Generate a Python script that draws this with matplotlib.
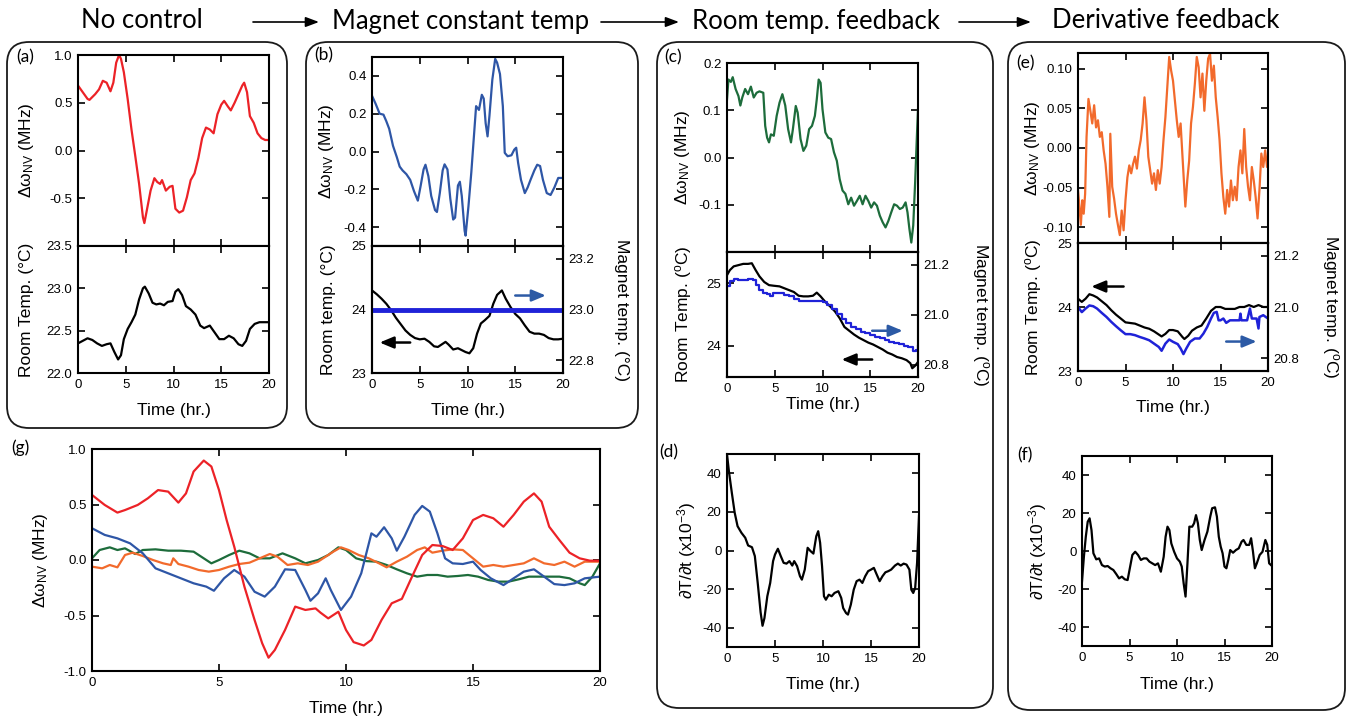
import matplotlib
matplotlib.use('Agg')
import matplotlib.pyplot as plt
from matplotlib.patches import FancyBboxPatch, FancyArrowPatch
from matplotlib.transforms import IdentityTransform
from matplotlib.ticker import FormatStrFormatter

plt.rcParams['font.family'] = ['Liberation Sans', 'DejaVu Sans']
plt.rcParams['axes.unicode_minus'] = False
plt.rcParams['mathtext.fontset'] = 'custom'
plt.rcParams['mathtext.rm'] = 'Liberation Sans'
plt.rcParams['mathtext.it'] = 'Liberation Sans:italic'

# ---------------- data ----------------
# (a) no control
a_t = [0, 0.5, 1.0, 1.2, 1.8, 2.2, 2.6, 3.0, 3.4, 3.7, 4.0, 4.3, 4.5, 4.8, 5.2, 5.6, 6.0, 6.4, 6.8, 6.95,
       7.2, 7.6, 8.0, 8.3, 8.6, 8.8, 9.2, 9.6, 9.9, 10.2, 10.6, 11.0, 11.4, 11.8, 12.2, 12.6, 13.0, 13.4, 13.8, 14.2,
       14.6, 15.0, 15.3, 15.7, 16.0, 16.4, 16.8, 17.2, 17.4, 17.7, 18.0, 18.4, 18.8, 19.2, 19.6, 20.0]
a_dw = [0.68, 0.61, 0.54, 0.53, 0.59, 0.64, 0.73, 0.71, 0.62, 0.71, 0.92, 1.0, 0.96, 0.82, 0.54, 0.22, -0.06, -0.35, -0.70, -0.76,
        -0.63, -0.42, -0.29, -0.33, -0.35, -0.31, -0.42, -0.38, -0.37, -0.61, -0.65, -0.63, -0.49, -0.31, -0.24, -0.08, 0.13, 0.24, 0.22, 0.18,
        0.38, 0.48, 0.52, 0.46, 0.42, 0.50, 0.59, 0.68, 0.71, 0.61, 0.36, 0.29, 0.18, 0.13, 0.11, 0.11]
a_room_t = [0, 0.5, 1.0, 1.5, 2.0, 2.5, 3.0, 3.4, 3.8, 4.2, 4.5, 4.8, 5.2, 5.6, 6.0, 6.4, 6.8, 7.0, 7.4, 7.8,
            8.2, 8.6, 9.0, 9.4, 9.9, 10.2, 10.5, 10.9, 11.3, 11.8, 12.3, 12.8, 13.2, 13.8, 14.3, 14.8, 15.3, 15.8, 16.3, 16.8,
            17.2, 17.6, 18.0, 18.5, 19.0, 20.0]
a_room = [22.35, 22.38, 22.41, 22.39, 22.35, 22.32, 22.34, 22.35, 22.25, 22.16, 22.21, 22.40, 22.52, 22.60, 22.69, 22.87, 23.00, 23.02, 22.94, 22.83,
          22.81, 22.82, 22.80, 22.84, 22.85, 22.96, 22.99, 22.92, 22.79, 22.75, 22.69, 22.56, 22.53, 22.56, 22.48, 22.40, 22.40, 22.44, 22.41, 22.34,
          22.32, 22.38, 22.52, 22.58, 22.60, 22.60]

# (b) magnet constant temp
b_t = [0, 0.4, 0.8, 1.2, 1.5, 1.8, 2.2, 2.6, 2.9, 3.2, 3.6, 4.0, 4.4, 4.8, 5.1, 5.4, 5.6, 5.9, 6.2, 6.6,
       6.8, 7.1, 7.4, 7.6, 7.9, 8.2, 8.5, 8.7, 9.0, 9.2, 9.4, 9.7, 9.8, 10.1, 10.4, 10.7, 10.9, 11.2, 11.5, 11.7,
       11.9, 12.1, 12.3, 12.6, 12.9, 13.1, 13.4, 13.7, 13.9, 14.2, 14.6, 14.9, 15.1, 15.3, 15.6, 16.0, 16.3, 16.6, 17.0, 17.3,
       17.6, 17.9, 18.3, 18.7, 19.1, 19.5, 20.0]
b_dw = [0.295, 0.25, 0.20, 0.195, 0.16, 0.12, 0.03, -0.03, -0.08, -0.10, -0.12, -0.15, -0.21, -0.26, -0.18, -0.095, -0.07, -0.13, -0.235, -0.31,
        -0.32, -0.22, -0.10, -0.068, -0.095, -0.25, -0.36, -0.35, -0.18, -0.16, -0.235, -0.42, -0.445, -0.29, -0.11, 0.10, 0.24, 0.22, 0.30, 0.28,
        0.15, 0.08, 0.19, 0.38, 0.49, 0.47, 0.41, 0.24, -0.007, -0.025, -0.02, 0.01, 0.02, -0.06, -0.15, -0.22, -0.19, -0.15, -0.10, -0.07,
        -0.077, -0.15, -0.22, -0.23, -0.19, -0.14, -0.14]
b_room_t = [0, 0.5, 1.0, 1.5, 2.0, 2.5, 3.0, 3.5, 4.0, 4.5, 5.0, 5.5, 6.0, 6.5, 6.9, 7.3, 7.7, 8.0, 8.5, 9.0,
            9.4, 9.8, 10.2, 10.6, 11.0, 11.4, 11.8, 12.3, 12.7, 13.1, 13.6, 14.0, 14.5, 15.0, 15.5, 16.0, 16.5, 17.0, 17.5, 18.0,
            18.5, 19.0, 19.5, 20.0]
b_room = [24.30, 24.24, 24.17, 24.09, 23.99, 23.87, 23.77, 23.67, 23.60, 23.55, 23.53, 23.54, 23.49, 23.42, 23.41, 23.45, 23.49, 23.45, 23.37, 23.39,
          23.36, 23.33, 23.31, 23.39, 23.62, 23.78, 23.83, 23.90, 24.09, 24.23, 24.30, 24.17, 24.04, 23.93, 23.86, 23.75, 23.65, 23.62, 23.62, 23.60,
          23.55, 23.53, 23.53, 23.54]
b_mag_t = [0, 5, 10, 15, 20]
b_mag = [23.0, 23.0, 23.0, 23.0, 23.0]

# (c) room temp. feedback
c_t = [0, 0.15, 0.4, 0.6, 0.9, 1.2, 1.4, 1.6, 1.9, 2.2, 2.5, 2.8, 3.1, 3.4, 3.8, 4.0, 4.2, 4.4, 4.6, 4.9,
       5.2, 5.5, 5.8, 6.1, 6.4, 6.7, 6.9, 7.2, 7.4, 7.7, 8.0, 8.3, 8.6, 8.9, 9.2, 9.4, 9.6, 9.8, 10.0, 10.3,
       10.6, 10.9, 11.2, 11.5, 11.8, 12.1, 12.4, 12.7, 13.0, 13.3, 13.6, 13.9, 14.2, 14.5, 14.8, 15.1, 15.4, 15.7, 16.0, 16.3,
       16.6, 16.9, 17.2, 17.5, 17.8, 18.1, 18.4, 18.7, 18.9, 19.1, 19.3, 19.5, 19.7, 19.9, 20.0]
c_dw = [0.123, 0.165, 0.16, 0.17, 0.145, 0.13, 0.11, 0.127, 0.145, 0.134, 0.15, 0.127, 0.137, 0.14, 0.137, 0.067, 0.042, 0.032, 0.049, 0.046,
        0.088, 0.116, 0.134, 0.11, 0.06, 0.032, 0.06, 0.109, 0.095, 0.039, 0.014, 0.025, 0.06, 0.067, 0.088, 0.123, 0.165, 0.158, 0.102, 0.053,
        0.042, 0.039, 0.011, -0.007, -0.046, -0.07, -0.077, -0.099, -0.085, -0.102, -0.092, -0.081, -0.099, -0.081, -0.092, -0.106, -0.095, -0.102, -0.123, -0.137,
        -0.148, -0.134, -0.116, -0.099, -0.102, -0.109, -0.106, -0.095, -0.116, -0.151, -0.18, -0.144, -0.053, 0.053, 0.102]
c_room_t = [0, 0.3, 0.7, 1.2, 1.7, 2.2, 2.6, 3.0, 3.4, 3.9, 4.4, 4.9, 5.5, 6.0, 6.5, 7.0, 7.5, 8.0, 8.5, 9.0,
            9.4, 9.8, 10.3, 10.8, 11.3, 11.8, 12.3, 12.8, 13.3, 13.8, 14.3, 14.8, 15.3, 15.8, 16.3, 16.8, 17.3, 17.8, 18.3, 18.8,
            19.2, 19.4, 19.7, 20.0]
c_room = [25.13, 25.21, 25.27, 25.29, 25.31, 25.31, 25.32, 25.21, 25.11, 25.02, 24.97, 24.96, 24.95, 24.92, 24.89, 24.86, 24.80, 24.79, 24.79, 24.80,
          24.85, 24.79, 24.70, 24.63, 24.55, 24.44, 24.30, 24.24, 24.18, 24.13, 24.09, 24.05, 24.02, 23.98, 23.94, 23.89, 23.86, 23.82, 23.80, 23.77,
          23.72, 23.64, 23.68, 23.74]
c_mag_t = [0, 0.3, 0.7, 1.2, 1.7, 2.2, 2.7, 3.0, 3.4, 3.8, 4.2, 4.5, 4.8, 5.5, 6.0, 6.5, 7.0, 7.5, 8.0, 9.0,
           9.6, 10.0, 10.5, 11.0, 11.5, 12.0, 12.5, 13.0, 13.5, 14.0, 14.5, 15.0, 15.5, 16.0, 16.5, 17.0, 17.5, 18.0, 18.5, 19.0,
           19.5, 19.8, 20.0]
c_mag = [21.115, 21.135, 21.141, 21.139, 21.139, 21.141, 21.139, 21.12, 21.10, 21.086, 21.082, 21.073, 21.086, 21.086, 21.078, 21.073, 21.063, 21.056, 21.056, 21.056,
         21.056, 21.05, 21.037, 21.021, 21.004, 20.984, 20.965, 20.952, 20.942, 20.932, 20.925, 20.919, 20.912, 20.906, 20.899, 20.89, 20.886, 20.882, 20.873, 20.869,
         20.854, 20.86, 20.873]

# (d) dT/dt for room temp. feedback
d_t = [0, 0.2, 0.5, 0.8, 1.1, 1.5, 1.9, 2.2, 2.6, 2.9, 3.2, 3.5, 3.7, 3.9, 4.2, 4.5, 4.8, 5.0, 5.3, 5.6,
       5.9, 6.2, 6.5, 6.8, 7.0, 7.3, 7.6, 7.8, 8.1, 8.4, 8.7, 9.0, 9.3, 9.5, 9.7, 9.9, 10.1, 10.3, 10.6, 10.9,
       11.2, 11.6, 11.9, 12.1, 12.4, 12.6, 12.9, 13.2, 13.5, 13.8, 14.1, 14.4, 14.7, 15.0, 15.3, 15.6, 15.9, 16.2, 16.5, 16.8,
       17.1, 17.5, 17.8, 18.1, 18.4, 18.7, 19.0, 19.2, 19.4, 19.6, 19.8, 20.0]
d_v = [49.9, 41, 30, 19.6, 12.6, 9.2, 6.6, 2.6, 1.7, -2.9, -16.8, -32, -39, -35, -23.7, -16.8, -5.5, -2.1, 0.9, -2.9,
       -6.4, -6.8, -5.5, -7.8, -5.5, -8.1, -13.3, -15.1, -9.9, 1.4, -0.3, -1.6, 7.4, 10, 4, -8.1, -23.7, -25.5, -22.9, -23.7,
       -22, -21.1, -24.6, -29.8, -32.4, -33.2, -28, -20.3, -15.9, -15.1, -16.8, -13.3, -10.7, -9.9, -9.0, -12.5, -15.9, -13.3, -11.3, -10.7,
       -9.9, -7.8, -6.8, -7.8, -6.8, -7.3, -9.9, -20.3, -22, -19.4, -6.4, 18.0]

# (e) derivative feedback
e_t = [0, 0.15, 0.3, 0.45, 0.6, 0.75, 0.9, 1.1, 1.3, 1.5, 1.7, 1.9, 2.1, 2.3, 2.5, 2.7, 2.9, 3.1, 3.3, 3.4,
       3.6, 3.8, 4.0, 4.2, 4.4, 4.6, 4.8, 5.0, 5.2, 5.4, 5.6, 5.8, 6.0, 6.2, 6.4, 6.6, 6.8, 7.0, 7.2, 7.4,
       7.6, 7.8, 8.0, 8.2, 8.4, 8.6, 8.8, 9.0, 9.2, 9.4, 9.6, 9.8, 10.0, 10.2, 10.4, 10.6, 10.8, 11.0, 11.1, 11.3,
       11.5, 11.7, 11.9, 12.1, 12.3, 12.5, 12.7, 12.9, 13.1, 13.3, 13.5, 13.7, 13.9, 14.1, 14.3, 14.5, 14.7, 14.9, 15.1, 15.3,
       15.5, 15.7, 15.9, 16.1, 16.3, 16.5, 16.7, 16.9, 17.1, 17.3, 17.5, 17.7, 17.9, 18.1, 18.3, 18.5, 18.7, 18.9, 19.1, 19.3,
       19.5, 19.7, 19.9, 20.0]
e_dw = [-0.053, -0.074, -0.097, -0.066, -0.083, -0.058, 0.014, 0.062, 0.047, 0.031, 0.054, 0.026, 0.035, 0.014, 0.02, -0.003, -0.02, -0.049, -0.087, 0.018,
        -0.049, -0.064, -0.083, -0.097, -0.11, -0.079, -0.104, -0.066, -0.037, -0.022, -0.032, -0.02, -0.011, -0.026, -0.003, 0.01, 0.031, 0.064, 0.035, -0.011,
        -0.028, -0.045, -0.032, -0.053, -0.028, -0.045, -0.024, 0.01, 0.039, 0.077, 0.115, 0.098, 0.085, 0.06, 0.035, 0.014, 0.031, -0.011, -0.032, -0.074,
        -0.041, -0.016, 0.031, 0.052, 0.081, 0.115, 0.102, 0.064, 0.094, 0.047, 0.085, 0.113, 0.119, 0.085, 0.104, 0.064, 0.039, 0.01, -0.032, -0.062,
        -0.083, -0.053, -0.074, -0.041, -0.066, -0.049, -0.066, -0.024, -0.003, -0.032, 0.024, -0.024, -0.049, -0.066, -0.024, -0.041, -0.062, -0.089, -0.053, -0.007,
        -0.024, -0.003, -0.024, -0.02]
e_room_t = [0, 0.4, 0.8, 1.2, 1.6, 2.0, 2.5, 3.0, 3.5, 4.0, 4.5, 5.0, 5.5, 6.0, 6.5, 7.0, 7.5, 8.0, 8.5, 8.8,
            9.2, 9.6, 10.0, 10.5, 11.0, 11.2, 11.6, 12.0, 12.5, 13.0, 13.5, 14.0, 14.5, 15.0, 15.5, 16.0, 16.5, 17.0, 17.5, 18.0,
            18.5, 19.0, 19.5, 20.0]
e_room = [24.13, 24.08, 24.13, 24.20, 24.18, 24.15, 24.09, 24.03, 23.95, 23.88, 23.82, 23.76, 23.75, 23.74, 23.71, 23.68, 23.66, 23.62, 23.57, 23.54,
          23.58, 23.64, 23.64, 23.62, 23.53, 23.50, 23.55, 23.63, 23.68, 23.71, 23.82, 23.94, 24.00, 24.00, 23.97, 23.97, 23.97, 24.00, 24.00, 24.03,
          24.00, 24.03, 24.00, 24.00]
e_mag_t = [0, 0.4, 0.8, 1.2, 1.6, 2.0, 2.5, 3.0, 3.5, 4.0, 4.5, 5.0, 5.5, 6.0, 6.5, 7.0, 7.5, 8.0, 8.5, 8.8,
           9.2, 9.6, 10.0, 10.5, 10.8, 11.1, 11.4, 11.8, 12.3, 12.8, 13.2, 13.6, 14.0, 14.3, 14.6, 14.8, 15.0, 15.3, 15.6, 16.0,
           16.5, 17.0, 17.1, 17.2, 17.8, 18.1, 18.3, 18.8, 19.0, 19.1, 19.5, 20.0]
e_mag = [21.0, 20.98, 20.994, 21.006, 21.003, 20.994, 20.977, 20.961, 20.942, 20.925, 20.909, 20.894, 20.894, 20.89, 20.883, 20.877, 20.87, 20.857, 20.844, 20.829,
         20.857, 20.873, 20.864, 20.855, 20.838, 20.816, 20.838, 20.864, 20.877, 20.877, 20.896, 20.922, 20.955, 20.977, 20.981, 20.948, 20.948, 20.955, 20.938, 20.948,
         20.948, 20.948, 20.974, 20.948, 20.948, 20.994, 20.955, 20.955, 20.916, 20.961, 20.968, 20.955]

# (f) dT/dt for derivative feedback
f_t = [0, 0.2, 0.4, 0.6, 0.8, 1.0, 1.2, 1.5, 1.8, 2.1, 2.4, 2.7, 3.0, 3.3, 3.6, 3.9, 4.2, 4.5, 4.8, 5.0,
       5.3, 5.6, 5.9, 6.2, 6.5, 6.8, 7.1, 7.4, 7.7, 8.0, 8.3, 8.6, 8.8, 9.0, 9.2, 9.4, 9.7, 10.0, 10.3, 10.5,
       10.7, 10.9, 11.1, 11.3, 11.6, 11.8, 12.0, 12.2, 12.4, 12.6, 12.9, 13.2, 13.5, 13.7, 14.0, 14.2, 14.4, 14.6, 14.8, 15.0,
       15.2, 15.4, 15.6, 15.9, 16.2, 16.5, 16.8, 17.0, 17.3, 17.6, 17.8, 18.0, 18.2, 18.4, 18.7, 19.0, 19.3, 19.5, 19.7, 20.0]
f_v = [-16.1, -3, 7.5, 15.4, 17.2, 11, -1.2, -4.4, -3.9, -7.4, -8.2, -7.9, -9.1, -10, -12.1, -14.4, -13.5, -14.9, -15.3, -10,
       -2.1, -0.4, -2.1, -4.7, -3.9, -3.9, -5.6, -6.5, -7.4, -6.5, -10.9, -3, 7.5, 12.8, 11, 4, -0.4, -3.9, -5.6, -8.2,
       -17, -24, -6.5, 12.8, 12.8, 14.6, 18.9, 14.6, 5.8, 0.5, 5.8, 10.2, 18.1, 22.5, 23, 18.1, 7.5, 2.3, -1.2, -8.2,
       -9.1, -4.7, 0.5, -0.9, 0.5, 1.4, 4.9, 5.8, 3.2, 3.2, 6.7, -0.4, -9.1, -6.5, -2.1, -0.4, 5.8, 3.2, -6.5, -7.9]

# (g) all four runs together
g_red_t = [0, 0.5, 1.0, 1.3, 1.8, 2.2, 2.6, 3.0, 3.4, 3.7, 4.0, 4.4, 4.7, 5.0, 5.3, 5.6, 6.0, 6.4, 6.7, 6.95,
           7.2, 7.6, 8.0, 8.4, 8.8, 9.0, 9.3, 9.7, 10.0, 10.3, 10.7, 11.0, 11.4, 11.8, 12.2, 12.6, 13.0, 13.4, 13.8, 14.2,
           14.6, 15.0, 15.4, 15.8, 16.2, 16.6, 17.0, 17.4, 17.7, 18.0, 18.4, 18.8, 19.2, 19.6, 20.0]
g_red = [0.586, 0.496, 0.427, 0.45, 0.496, 0.556, 0.63, 0.616, 0.517, 0.60, 0.797, 0.896, 0.842, 0.63, 0.36, 0.12, -0.24, -0.54, -0.75, -0.88,
         -0.81, -0.63, -0.42, -0.45, -0.436, -0.475, -0.526, -0.466, -0.63, -0.74, -0.77, -0.72, -0.54, -0.39, -0.35, -0.15, 0.045, 0.135, 0.126, 0.09,
         0.195, 0.36, 0.406, 0.376, 0.30, 0.406, 0.526, 0.60, 0.526, 0.30, 0.18, 0.066, 0.015, -0.006, -0.006]
g_blue_t = [0, 0.5, 1.0, 1.5, 2.0, 2.5, 3.0, 3.5, 4.0, 4.5, 4.8, 5.2, 5.6, 6.0, 6.4, 6.8, 7.2, 7.6, 8.0, 8.4,
            8.6, 8.9, 9.2, 9.4, 9.8, 10.2, 10.6, 11.0, 11.2, 11.5, 11.8, 12.0, 12.3, 12.7, 13.0, 13.3, 13.6, 13.9, 14.2, 14.6,
            15.0, 15.3, 15.7, 16.2, 16.6, 17.0, 17.4, 17.8, 18.2, 18.6, 19.0, 19.4, 20.0]
g_blue = [0.286, 0.226, 0.195, 0.15, 0.06, -0.075, -0.12, -0.165, -0.21, -0.24, -0.277, -0.165, -0.09, -0.15, -0.286, -0.33, -0.24, -0.084, -0.09, -0.27,
          -0.367, -0.30, -0.165, -0.27, -0.45, -0.33, -0.12, 0.24, 0.21, 0.295, 0.195, 0.084, 0.21, 0.406, 0.487, 0.436, 0.24, 0.015, -0.03, -0.036,
          -0.015, -0.09, -0.165, -0.226, -0.165, -0.105, -0.084, -0.15, -0.217, -0.226, -0.21, -0.165, -0.15]
g_green_t = [0, 0.3, 0.7, 1.0, 1.3, 1.7, 2.0, 2.5, 3.0, 3.5, 4.0, 4.4, 4.7, 5.0, 5.4, 5.8, 6.2, 6.6, 7.0, 7.5,
             8.0, 8.4, 8.9, 9.3, 9.7, 10.0, 10.4, 10.8, 11.2, 11.6, 12.0, 12.4, 12.8, 13.2, 13.6, 14.0, 14.4, 14.8, 15.2, 15.6,
             16.0, 16.4, 16.8, 17.2, 17.6, 18.0, 18.4, 18.8, 19.2, 19.4, 19.7, 20.0]
g_green = [0.015, 0.09, 0.114, 0.09, 0.105, 0.054, 0.09, 0.096, 0.084, 0.084, 0.075, 0.015, -0.03, 0.0, 0.045, 0.084, 0.06, 0.015, 0.015, 0.06,
           0.015, -0.03, 0.0, 0.045, 0.114, 0.09, 0.015, -0.01, -0.015, -0.045, -0.084, -0.12, -0.15, -0.135, -0.135, -0.15, -0.144, -0.135, -0.15, -0.18,
           -0.195, -0.195, -0.174, -0.15, -0.15, -0.15, -0.15, -0.165, -0.21, -0.226, -0.15, -0.03]
g_orange_t = [0, 0.4, 0.7, 1.0, 1.3, 1.6, 2.0, 2.4, 2.8, 3.1, 3.2, 3.4, 3.8, 4.2, 4.6, 5.0, 5.4, 5.8, 6.2, 6.6,
              7.0, 7.3, 7.7, 8.1, 8.5, 8.9, 9.2, 9.5, 9.8, 10.1, 10.5, 10.9, 11.3, 11.6, 12.0, 12.4, 12.8, 13.1, 13.4, 13.8,
              14.2, 14.6, 15.0, 15.4, 15.8, 16.2, 16.6, 17.0, 17.4, 17.8, 18.2, 18.6, 19.0, 19.4, 20.0]
g_orange = [-0.06, -0.075, -0.045, -0.066, 0.045, 0.066, 0.036, 0.0, -0.03, -0.045, 0.015, -0.036, -0.06, -0.09, -0.105, -0.09, -0.06, -0.036, -0.024, 0.015,
            0.054, 0.03, -0.045, -0.03, -0.045, -0.015, 0.03, 0.075, 0.114, 0.09, 0.045, 0.015, -0.03, -0.066, -0.015, 0.03, 0.09, 0.114, 0.066, 0.084,
            0.096, 0.09, 0.015, -0.06, -0.045, -0.06, -0.045, -0.03, 0.015, -0.03, -0.045, -0.015, -0.06, -0.015, -0.015]

titles = ['No control', 'Magnet constant temp', 'Room temp. feedback', 'Derivative feedback']
time_ticks = [0, 5, 10, 15, 20]

RED = '#ec2227'
BLUE = '#2e56a6'
GREEN = '#1d6c3b'
ORANGE = '#f26a2c'
MAG = '#1f22d8'
ARR_BLUE = '#2c5aa5'

W, H = 1361, 724
fig = plt.figure(figsize=(W / 100, H / 100), dpi=100)

LBL = 12.5
TICK = 9.5
LW = 1.6


def px_axes(box):
    x0, y0, x1, y1 = box
    return fig.add_axes([x0 / W, 1 - y1 / H, (x1 - x0) / W, (y1 - y0) / H])


def style(ax, labelbottom=True, right=True):
    ax.tick_params(direction='in', length=5, width=1.2, top=True, right=right,
                   labelsize=TICK, pad=4, labelbottom=labelbottom)
    for s in ax.spines.values():
        s.set_linewidth(1.5)
    ax.set_xlim(0, 20)
    ax.set_xticks(time_ticks)


def ylab(ax, box, text, xpx, right=False):
    x0, y0, x1, y1 = box
    ax.set_ylabel(text, fontsize=LBL, rotation=270 if right else 90)
    ax.yaxis.set_label_coords((xpx - x0) / (x1 - x0), 0.5)
    ax.yaxis.label.set_va('center')
    ax.yaxis.label.set_ha('center')


def xlab(ax, box, ypx):
    x0, y0, x1, y1 = box
    ax.set_xlabel('Time (hr.)', fontsize=LBL)
    ax.xaxis.set_label_coords(0.5, (y1 - ypx) / (y1 - y0))
    ax.xaxis.label.set_va('center')


def arrow(ax, x_from, x_to, y, color):
    ax.annotate('', xy=(x_to, y), xytext=(x_from, y), xycoords='axes fraction',
                arrowprops=dict(arrowstyle='-|>,head_length=0.6,head_width=0.25', color=color,
                                lw=1.8, mutation_scale=14, shrinkA=0, shrinkB=0))


def rbox(x0, y0, x1, y1):
    fig.add_artist(FancyBboxPatch((x0, H - y1), x1 - x0, y1 - y0,
                                  boxstyle='round,pad=0,rounding_size=22',
                                  transform=IdentityTransform(), fc='none', ec='#1a1a1a', lw=1.3))


def plabel(x, y, s):
    fig.text(x / W, 1 - y / H, s, fontsize=12.5, ha='left', va='center', family=['Lato', 'DejaVu Sans'])


def twin_right(ax, box, lo, hi, ticks, text, xpx):
    ax2 = ax.twinx()
    ax2.set_ylim(lo, hi)
    ax2.set_yticks(ticks)
    ax2.yaxis.set_major_formatter(FormatStrFormatter('%.1f'))
    ax2.tick_params(direction='in', length=5, width=1.2, labelsize=TICK, pad=4)
    for s in ax2.spines.values():
        s.set_linewidth(1.5)
    ylab(ax2, box, text, xpx, right=True)
    return ax2


dw_label = 'Δω$_{\\mathregular{NV}}$ (MHz)'
dT_label = '∂T/∂t (x10$^{\\mathregular{-3}}$)'
deg_o = '$^{\\mathregular{o}}$C'

# ---------------- boxes and titles ----------------
rbox(7, 42, 287, 428)
rbox(306, 42, 638, 428)
rbox(657, 42, 993, 708)
rbox(1008, 42, 1345, 710)

for s, xc in zip(titles, [142, 461, 816, 1166]):
    fig.text(xc / W, 1 - 21 / H, s, fontsize=18.5, ha='center', va='center', family=['Lato', 'DejaVu Sans'])
for xa, xb in [(253, 319), (601, 679), (959, 1031)]:
    fig.add_artist(FancyArrowPatch((xa, H - 22), (xb, H - 22), transform=IdentityTransform(),
                                   arrowstyle='-|>,head_length=0.8,head_width=0.3', mutation_scale=10,
                                   lw=1.2, color='k', shrinkA=0, shrinkB=0))

# ---------------- (a) ----------------
box = (78, 55, 269, 246)
ax = px_axes(box)
style(ax, labelbottom=False)
ax.plot(a_t, a_dw, color=RED, lw=LW)
ax.set_ylim(-1.0, 1.0)
ax.set_yticks([-0.5, 0.0, 0.5, 1.0])
ax.yaxis.set_major_formatter(FormatStrFormatter('%.1f'))
ylab(ax, box, dw_label, 27)

box = (78, 246, 269, 373)
ax = px_axes(box)
style(ax)
ax.plot(a_room_t, a_room, color='k', lw=LW)
ax.set_ylim(22.0, 23.5)
ax.set_yticks([22.0, 22.5, 23.0, 23.5])
ax.yaxis.set_major_formatter(FormatStrFormatter('%.1f'))
ylab(ax, box, 'Room Temp. (°C)', 27)
xlab(ax, box, 410)
plabel(16, 57, '(a)')

# ---------------- (b) ----------------
box = (372, 57, 563, 246)
ax = px_axes(box)
style(ax, labelbottom=False)
ax.plot(b_t, b_dw, color=BLUE, lw=LW)
ax.set_ylim(-0.5, 0.5)
ax.set_yticks([-0.4, -0.2, 0.0, 0.2, 0.4])
ax.yaxis.set_major_formatter(FormatStrFormatter('%.1f'))
ylab(ax, box, dw_label, 327)

box = (372, 246, 563, 373)
ax = px_axes(box)
style(ax, right=False)
ax.plot(b_room_t, b_room, color='k', lw=LW)
ax.set_ylim(23, 25)
ax.set_yticks([23, 24, 25])
ylab(ax, box, 'Room temp. (°C)', 328)
xlab(ax, box, 410)
ax2 = twin_right(ax, box, 22.75, 23.25, [22.8, 23.0, 23.2], 'Magnet temp. (°C)', 622)
ax2.plot(b_mag_t, b_mag, color=MAG, lw=3.5)
arrow(ax2, 0.75, 0.91, 0.61, ARR_BLUE)
arrow(ax2, 0.20, 0.04, 0.24, 'k')
plabel(314, 55, '(b)')

# ---------------- (c) ----------------
box = (727, 63, 918, 252)
ax = px_axes(box)
style(ax, labelbottom=False)
ax.plot(c_t, c_dw, color=GREEN, lw=LW)
ax.set_ylim(-0.2, 0.2)
ax.set_yticks([-0.1, 0.0, 0.1, 0.2])
ax.yaxis.set_major_formatter(FormatStrFormatter('%.1f'))
ylab(ax, box, dw_label, 683)

box = (727, 252, 918, 377)
ax = px_axes(box)
style(ax, right=False)
ax.plot(c_room_t, c_room, color='k', lw=LW)
ax.set_ylim(23.5, 25.5)
ax.set_yticks([24, 25])
ylab(ax, box, 'Room Temp. (' + deg_o + ')', 683)
xlab(ax, box, 405)
ax2 = twin_right(ax, box, 20.75, 21.25, [20.8, 21.0, 21.2], 'Magnet temp. (' + deg_o + ')', 980)
ax2.plot(c_mag_t, c_mag, color=MAG, lw=LW, drawstyle='steps-post')
arrow(ax2, 0.76, 0.92, 0.37, ARR_BLUE)
arrow(ax2, 0.76, 0.60, 0.14, 'k')
plabel(664, 57, '(c)')

# ---------------- (d) ----------------
box = (727, 454, 919, 647)
ax = px_axes(box)
style(ax)
ax.plot(d_t, d_v, color='k', lw=LW)
ax.set_ylim(-50, 50)
ax.set_yticks([-40, -20, 0, 20, 40])
ylab(ax, box, dT_label, 687)
xlab(ax, box, 685)
plabel(659, 452, '(d)')

# ---------------- (e) ----------------
box = (1078, 53, 1268, 243)
ax = px_axes(box)
style(ax, labelbottom=False)
ax.plot(e_t, e_dw, color=ORANGE, lw=LW)
ax.set_ylim(-0.12, 0.12)
ax.set_yticks([-0.10, -0.05, 0.0, 0.05, 0.10])
ax.yaxis.set_major_formatter(FormatStrFormatter('%.2f'))
ylab(ax, box, dw_label, 1033)

box = (1078, 243, 1268, 371)
ax = px_axes(box)
style(ax, right=False)
ax.plot(e_room_t, e_room, color='k', lw=LW)
ax.set_ylim(23, 25)
ax.set_yticks([23, 24, 25])
ylab(ax, box, 'Room Temp. (' + deg_o + ')', 1033)
xlab(ax, box, 407)
ax2 = twin_right(ax, box, 20.75, 21.25, [20.8, 21.0, 21.2], 'Magnet temp. (' + deg_o + ')', 1330)
ax2.plot(e_mag_t, e_mag, color=MAG, lw=1.8)
arrow(ax2, 0.24, 0.07, 0.66, 'k')
arrow(ax2, 0.78, 0.94, 0.23, ARR_BLUE)
plabel(1016, 63, '(e)')

# ---------------- (f) ----------------
box = (1082, 456, 1272, 646)
ax = px_axes(box)
style(ax)
ax.plot(f_t, f_v, color='k', lw=LW)
ax.set_ylim(-50, 50)
ax.set_yticks([-40, -20, 0, 20, 40])
ylab(ax, box, dT_label, 1038)
xlab(ax, box, 685)
plabel(1017, 455, '(f)')

# ---------------- (g) ----------------
box = (92, 449, 600, 671)
ax = px_axes(box)
style(ax)
ax.plot(g_green_t, g_green, color=GREEN, lw=LW)
ax.plot(g_orange_t, g_orange, color=ORANGE, lw=LW)
ax.plot(g_blue_t, g_blue, color=BLUE, lw=LW)
ax.plot(g_red_t, g_red, color=RED, lw=LW)
ax.set_ylim(-1.0, 1.0)
ax.set_yticks([-1.0, -0.5, 0.0, 0.5, 1.0])
ax.yaxis.set_major_formatter(FormatStrFormatter('%.1f'))
ylab(ax, box, dw_label, 40)
xlab(ax, box, 708)
plabel(11, 448, '(g)')

fig.savefig('out.png', dpi=100)
